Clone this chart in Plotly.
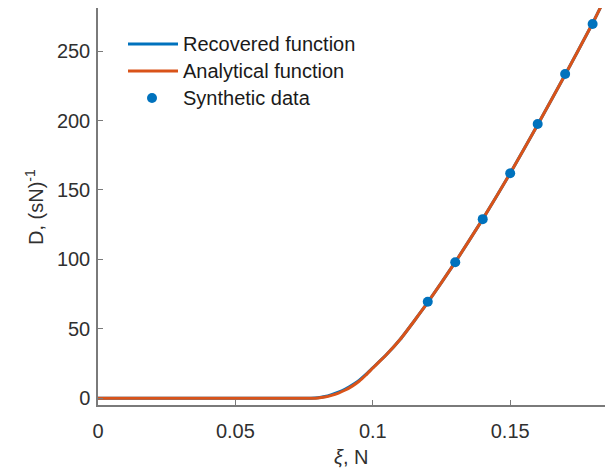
import plotly.graph_objects as go

# Analytical function
xi_analytical = [0.0, 0.02, 0.04, 0.06, 0.07, 0.075, 0.078, 0.08, 0.0825, 0.085,
                 0.0875, 0.09, 0.0925, 0.095, 0.0975, 0.10, 0.105, 0.11, 0.115, 0.12,
                 0.13, 0.14, 0.15, 0.16, 0.17, 0.18, 0.183]
D_analytical = [0.0, 0.0, 0.0, 0.0, 0.0, 0.0, 0.0, 0.2, 0.9, 2.1,
                3.8, 6.0, 8.8, 12.3, 16.8, 21.8, 31.5, 42.5, 55.5, 69.0,
                98.0, 129.0, 162.0, 197.0, 233.0, 270.0, 282.0]

# Recovered function (nearly identical, a touch higher near the knee)
xi_recovered = [0.0, 0.02, 0.04, 0.06, 0.07, 0.075, 0.0775, 0.08, 0.0825, 0.085,
                0.0875, 0.09, 0.0925, 0.095, 0.0975, 0.10, 0.105, 0.11, 0.115, 0.12,
                0.13, 0.14, 0.15, 0.16, 0.17, 0.18, 0.183]
D_recovered = [0.0, 0.0, 0.0, 0.0, 0.0, 0.0, 0.0, 0.4, 1.3, 2.7,
               4.4, 6.7, 9.5, 12.9, 17.2, 22.0, 31.5, 42.5, 55.5, 69.0,
               98.0, 129.0, 162.0, 197.0, 233.0, 270.0, 282.0]

# Synthetic data points
xi_data = [0.12, 0.13, 0.14, 0.15, 0.16, 0.17, 0.18]
D_data = [69.5, 98.0, 129.0, 162.0, 197.5, 233.5, 269.5]

x_ticks = [0, 0.05, 0.1, 0.15]
x_tick_labels = ["0", "0.05", "0.1", "0.15"]
y_ticks = [0, 50, 100, 150, 200, 250]

legend_names = ["Recovered function", "Analytical function", "Synthetic data"]

BLUE = "#0072BD"
ORANGE = "#D95319"
FONT = "Liberation Sans, Arial, sans-serif"
TXT = "#303030"
AX = "#7a7a7a"

W, H = 605, 476
L, R, T, B = 98, 0, 8, 71
PW, PH = W - L - R, H - T - B


def px(x):
    return (x - L) / PW


def py(y):
    return (H - B - y) / PH


fig = go.Figure()
fig.add_trace(go.Scatter(x=xi_recovered, y=D_recovered, mode="lines",
                         line=dict(color=BLUE, width=3, shape="spline", smoothing=0.5),
                         name=legend_names[0], showlegend=False))
fig.add_trace(go.Scatter(x=xi_analytical, y=D_analytical, mode="lines",
                         line=dict(color=ORANGE, width=3, shape="spline", smoothing=0.5),
                         name=legend_names[1], showlegend=False))
fig.add_trace(go.Scatter(x=xi_data, y=D_data, mode="markers",
                         marker=dict(color=BLUE, size=10), name=legend_names[2],
                         showlegend=False))

# Manual MATLAB-style legend (no box)
rows_y = [44, 71, 98]
shapes = [
    dict(type="line", xref="paper", yref="paper", x0=px(128), x1=px(178),
         y0=py(rows_y[0]), y1=py(rows_y[0]), line=dict(color=BLUE, width=3)),
    dict(type="line", xref="paper", yref="paper", x0=px(128), x1=px(178),
         y0=py(rows_y[1]), y1=py(rows_y[1]), line=dict(color=ORANGE, width=3)),
    dict(type="circle", xref="paper", yref="paper", xsizemode="pixel", ysizemode="pixel",
         xanchor=px(152), yanchor=py(rows_y[2]), x0=-5, x1=5, y0=-5, y1=5,
         fillcolor=BLUE, line=dict(color=BLUE, width=0)),
]
annotations = [
    dict(text=legend_names[i], x=px(181), y=py(rows_y[i]), xref="paper", yref="paper",
         xanchor="left", yanchor="middle", showarrow=False,
         font=dict(size=20, color="#1a1a1a"))
    for i in range(3)
]
annotations += [
    dict(text="<i>ξ</i>, N", x=0.5, y=py(457), xref="paper", yref="paper",
         xanchor="center", yanchor="middle", showarrow=False,
         font=dict(size=20, color=TXT)),
    dict(text="D, (sN)<sup>-1</sup>", x=px(35), y=py(207), xref="paper", yref="paper",
         xanchor="center", yanchor="middle", showarrow=False, textangle=-90,
         font=dict(size=20, color=TXT)),
]

fig.update_layout(
    width=W, height=H,
    margin=dict(l=L, r=R, t=T, b=B),
    paper_bgcolor="white", plot_bgcolor="white",
    font=dict(family=FONT, size=20, color=TXT),
    showlegend=False,
    xaxis=dict(range=[0, 0.1845], tickvals=x_ticks, ticktext=x_tick_labels,
               ticks="inside", ticklen=5, tickcolor=AX, tickwidth=1,
               showline=True, linecolor=AX, linewidth=1.5,
               showgrid=False, zeroline=False, mirror=False,
               ticklabelstandoff=7,
               tickfont=dict(size=20, color=TXT)),
    yaxis=dict(range=[-4.8, 281], tickvals=y_ticks,
               ticks="inside", ticklen=5, tickcolor=AX, tickwidth=1,
               showline=True, linecolor=AX, linewidth=1.5,
               showgrid=False, zeroline=False, mirror=False,
               ticklabelstandoff=2,
               tickfont=dict(size=20, color=TXT)),
    shapes=shapes,
    annotations=annotations,
)

fig.write_html("out.html")
